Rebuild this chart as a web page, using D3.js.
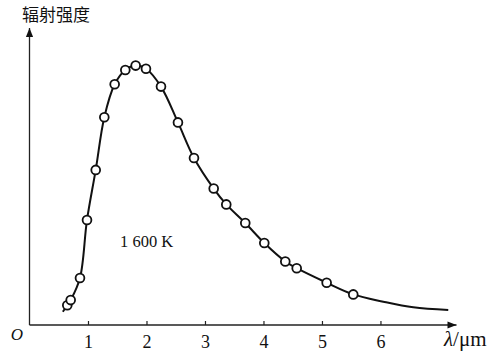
<!DOCTYPE html>
<html>
<head>
<meta charset="utf-8">
<script src="https://cdn.jsdelivr.net/npm/d3@7"></script>
<style>
    body { margin: 0; background: #fff; }
    svg { display: block; }
    .lbl { font-family: "Liberation Serif", "DejaVu Serif", serif; fill: #111; }
</style>
</head>
<body>
<svg id="chart"></svg>
<script>
// measured points (wavelength in um, relative intensity)
const pointX = [0.646, 0.704, 0.863, 0.983, 1.132, 1.279, 1.456, 1.638, 1.815, 1.991, 2.248,
    2.538, 2.812, 3.149, 3.364, 3.689, 4.014, 4.373, 4.568, 5.080, 5.535];
const pointY = [7.6, 9.6, 18.1, 40.5, 59.8, 80.1, 92.8, 98.3, 100, 98.8, 91.9,
    78.1, 64.4, 52.6, 46.5, 39.3, 31.6, 24.5, 21.9, 16.3, 11.8];

// smooth curve through the points, with its ends
const curveX = [0.570, 0.646, 0.704, 0.863, 0.983, 1.132, 1.279, 1.456, 1.638, 1.815, 1.991, 2.248,
    2.538, 2.812, 3.149, 3.364, 3.689, 4.014, 4.373, 4.568, 5.080, 5.535, 6.048, 6.561, 7.159];
const curveY = [5.1, 7.6, 9.6, 18.1, 40.5, 59.8, 80.1, 92.8, 98.3, 100, 98.8, 91.9,
    78.1, 64.4, 52.6, 46.5, 39.3, 31.6, 24.5, 21.9, 16.3, 11.8, 9.0, 6.8, 5.8];

const xTicks = [1, 2, 3, 4, 5, 6];

const width = 500, height = 355;
const svg = d3.select("#chart").attr("width", width).attr("height", height);

const x = d3.scaleLinear().domain([0, 7.3]).range([29.5, 456.5]);
const y = d3.scaleLinear().domain([0, 114.5]).range([325, 28]);

// arrow head
svg.append("defs").append("marker")
    .attr("id", "arrow")
    .attr("viewBox", "0 0 10 10")
    .attr("refX", 10).attr("refY", 5)
    .attr("markerWidth", 10).attr("markerHeight", 9)
    .attr("markerUnits", "userSpaceOnUse")
    .attr("orient", "auto")
    .append("path")
    .attr("d", "M0,1 L10,5 L0,9 Z")
    .attr("fill", "#111");

// axes
svg.append("line")
    .attr("x1", x(0)).attr("y1", y(0))
    .attr("x2", x(7.3)).attr("y2", y(0))
    .attr("stroke", "#222").attr("stroke-width", 1.3)
    .attr("marker-end", "url(#arrow)");

svg.append("line")
    .attr("x1", x(0)).attr("y1", y(0))
    .attr("x2", x(0)).attr("y2", y(114.5))
    .attr("stroke", "#222").attr("stroke-width", 1.3)
    .attr("marker-end", "url(#arrow)");

const xAxis = d3.axisBottom(x).tickValues(xTicks).tickSize(-4).tickPadding(9);
const gx = svg.append("g").attr("transform", `translate(0,${y(0)})`).call(xAxis);
gx.select(".domain").remove();
gx.selectAll(".tick line").attr("stroke", "#222").attr("stroke-width", 1.2);
gx.selectAll(".tick text")
    .attr("class", "lbl")
    .attr("font-size", 18)
    .attr("fill", "#111")
    .attr("dy", null)
    .attr("y", 23);

// labels
svg.append("text").attr("class", "lbl")
    .attr("x", 17).attr("y", 340)
    .attr("text-anchor", "middle")
    .attr("font-size", 17).attr("font-style", "italic")
    .text("O");

const xl = svg.append("text").attr("class", "lbl")
    .attr("x", 444).attr("y", 346)
    .attr("font-size", 21);
xl.append("tspan").attr("font-style", "italic").text("λ");
xl.append("tspan").text("/μm");

svg.append("text")
    .attr("x", 22).attr("y", 21)
    .attr("font-family", "Noto Sans CJK SC")
    .attr("font-size", 17)
    .attr("fill", "#111")
    .text("辐射强度");

svg.append("text").attr("class", "lbl")
    .attr("x", 120).attr("y", 247)
    .attr("font-size", 16.5)
    .text("1 600 K");

// curve
const line = d3.line()
    .x((d, i) => x(curveX[i]))
    .y(d => y(d))
    .curve(d3.curveCatmullRom.alpha(0.5));

svg.append("path")
    .datum(curveY)
    .attr("d", line)
    .attr("fill", "none")
    .attr("stroke", "#111")
    .attr("stroke-width", 2);

// points
svg.append("g")
    .selectAll("circle")
    .data(pointY)
    .join("circle")
    .attr("cx", (d, i) => x(pointX[i]))
    .attr("cy", d => y(d))
    .attr("r", 4.4)
    .attr("fill", "#fff")
    .attr("stroke", "#111")
    .attr("stroke-width", 1.8);
</script>
</body>
</html>
